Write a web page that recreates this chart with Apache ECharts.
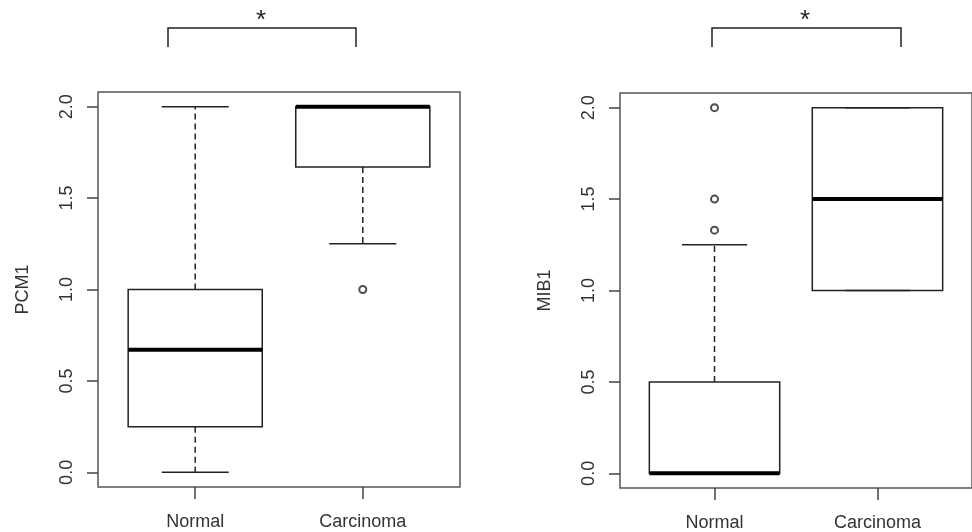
<!DOCTYPE html>
<html>
<head>
<meta charset="utf-8">
<script src="https://cdn.jsdelivr.net/npm/echarts@6/dist/echarts.min.js"></script>
<style>
html,body{margin:0;padding:0;background:#fff;}
#c{width:972px;height:532px;}
</style>
</head>
<body>
<div id="c"></div>
<script>
// ---- data ----
const categories = ['Normal', 'Carcinoma'];
const yTicks = [0, 0.5, 1, 1.5, 2];
// [lower whisker, Q1, median, Q3, upper whisker]
const pcm1Stats = [[0, 0.25, 0.67, 1.0, 2.0], [1.25, 1.67, 2.0, 2.0, 2.0]];
const pcm1Outliers = [[1, 1.0]];            // [category index, value]
const mib1Stats = [[0, 0, 0, 0.5, 1.25], [1.0, 1.0, 1.5, 2.0, 2.0]];
const mib1Outliers = [[0, 1.33], [0, 1.5], [0, 2.0]];
const panelNames = ['PCM1', 'MIB1'];

// ---- chart ----
const chart = echarts.init(document.getElementById('c'), null, {renderer: 'canvas'});
const TXT = '#333';
const LINE = '#222';
const FONT = 'Liberation Sans, Arial, sans-serif';

function boxRender(params, api) {
  const x = api.value(0);
  const lo = api.value(1), q1 = api.value(2), md = api.value(3), q3 = api.value(4), hi = api.value(5);
  const bw = 0.4, sw = 0.2;
  const pL = api.coord([x - bw, q3]), pR = api.coord([x + bw, q1]);
  const c = api.coord([x, 0])[0];
  const sL = api.coord([x - sw, 0])[0], sR = api.coord([x + sw, 0])[0];
  const yLo = api.coord([x, lo])[1], yQ1 = api.coord([x, q1])[1], yMd = api.coord([x, md])[1];
  const yQ3 = api.coord([x, q3])[1], yHi = api.coord([x, hi])[1];
  const solid = {stroke: LINE, lineWidth: 1.5, fill: null};
  const dashed = {stroke: LINE, lineWidth: 1.5, lineDash: [6, 4]};
  return {
    type: 'group',
    children: [
      {type: 'rect', shape: {x: pL[0], y: pL[1], width: pR[0] - pL[0], height: pR[1] - pL[1]}, style: {stroke: LINE, lineWidth: 1.5, fill: '#fff'}},
      {type: 'line', shape: {x1: c, y1: yQ3, x2: c, y2: yHi}, style: dashed},
      {type: 'line', shape: {x1: c, y1: yQ1, x2: c, y2: yLo}, style: dashed},
      {type: 'line', shape: {x1: sL, y1: yHi, x2: sR, y2: yHi}, style: solid},
      {type: 'line', shape: {x1: sL, y1: yLo, x2: sR, y2: yLo}, style: solid},
      {type: 'line', shape: {x1: pL[0], y1: yMd, x2: pR[0], y2: yMd}, style: {stroke: '#000', lineWidth: 4}}
    ]
  };
}

const grids = [
  {left: 98, top: 92, width: 362, height: 395},
  {left: 620, top: 93, width: 359, height: 395}
];

const xAxes = grids.map((g, i) => ({
  type: 'value', gridIndex: i, min: 0.42, max: 2.58, position: 'bottom',
  axisLine: {show: false, onZero: false}, splitLine: {show: false},
  axisTick: {show: true, inside: false, length: 12, customValues: [1, 2], lineStyle: {color: '#444', width: 1.5}},
  axisLabel: {customValues: [1, 2], formatter: v => categories[Math.round(v) - 1], color: TXT, fontSize: 18, fontFamily: FONT, margin: 26}
}));

const yAxes = grids.map((g, i) => ({
  type: 'value', gridIndex: i, min: -0.08, max: 2.08, position: 'left',
  name: panelNames[i], nameLocation: 'middle', nameRotate: 90, nameGap: 66,
  nameTextStyle: {color: TXT, fontSize: 18, fontFamily: FONT},
  axisLine: {show: false, onZero: false}, splitLine: {show: false},
  axisTick: {show: true, length: 11, customValues: yTicks, lineStyle: {color: '#444', width: 1.5}},
  axisLabel: {customValues: yTicks, rotate: 90, formatter: v => v.toFixed(1), color: TXT, fontSize: 18, fontFamily: FONT, margin: 22}
}));

const statsList = [pcm1Stats, mib1Stats];
const outList = [pcm1Outliers, mib1Outliers];
const series = [];
statsList.forEach((st, i) => {
  series.push({
    type: 'custom', xAxisIndex: i, yAxisIndex: i,
    renderItem: boxRender,
    data: st.map((s, k) => [k + 1].concat(s)),
    silent: true, animation: false, z: 2
  });
  series.push({
    type: 'scatter', xAxisIndex: i, yAxisIndex: i,
    symbol: 'emptyCircle', symbolSize: 7,
    itemStyle: {color: LINE, borderWidth: 1.3},
    data: outList[i].map(o => [o[0] + 1, o[1]]),
    silent: true, animation: false, z: 5
  });
});

function bracket(x1, x2, y, leg, sx) {
  return [
    {type: 'polyline', shape: {points: [[x1, y + leg], [x1, y], [x2, y], [x2, y + leg]]}, style: {stroke: LINE, lineWidth: 1.5, fill: null}},
    {type: 'text', x: sx, y: 8, style: {text: '*', fontSize: 26, fontFamily: FONT, fill: LINE, align: 'center', verticalAlign: 'top'}}
  ];
}

chart.setOption({
  animation: false,
  backgroundColor: '#fff',
  grid: grids.map(g => Object.assign({show: true, borderColor: '#555', borderWidth: 1.5, backgroundColor: 'transparent'}, g)),
  xAxis: xAxes,
  yAxis: yAxes,
  series: series,
  graphic: [].concat(bracket(168, 356, 28, 19, 261), bracket(712, 901, 28, 19, 805))
});
</script>
</body>
</html>
